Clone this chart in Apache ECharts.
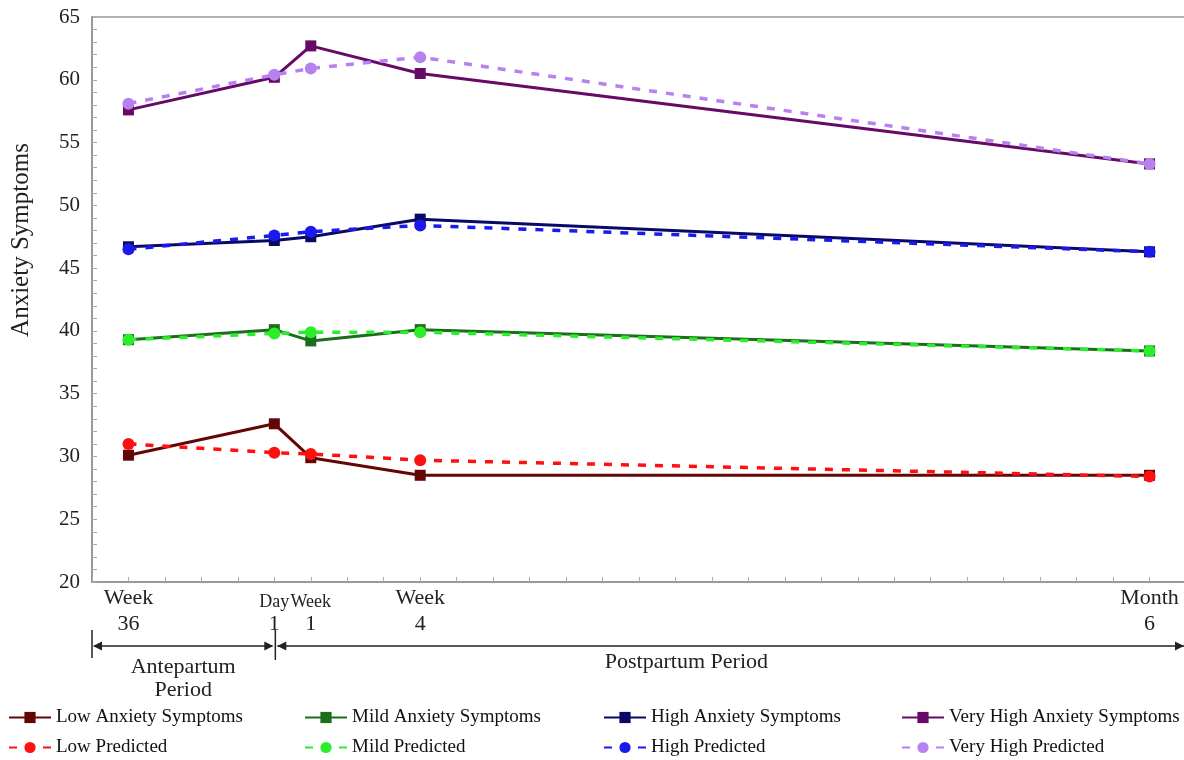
<!DOCTYPE html>
<html>
<head>
<meta charset="utf-8">
<script src="https://cdn.jsdelivr.net/npm/echarts@6/dist/echarts.min.js"></script>
<style>
html,body{margin:0;padding:0;background:#fff;}
#chart{width:1184px;height:760px;}
</style>
</head>
<body>
<div id="chart"></div>
<script>
// Time points (weeks relative to delivery)
var timePoints = [-4, 0, 1, 4, 24];
var tickLabels = {"-4": ["Week", "36", false], "0": ["Day", "1", true], "1": ["Week", "1", true], "4": ["Week", "4", false], "24": ["Month", "6", false]};

var lowObserved = [30.1, 32.6, 29.9, 28.5, 28.5];
var mildObserved = [39.3, 40.1, 39.2, 40.1, 38.4];
var highObserved = [46.7, 47.2, 47.5, 48.9, 46.3];
var veryHighObserved = [57.6, 60.2, 62.7, 60.5, 53.3];

var lowPredicted = [31.0, 30.3, 30.2, 29.7, 28.4];
var mildPredicted = [39.3, 39.8, 39.9, 39.9, 38.4];
var highPredicted = [46.5, 47.6, 47.9, 48.4, 46.3];
var veryHighPredicted = [58.1, 60.4, 60.9, 61.8, 53.3];

var FONT = '"Liberation Serif","Times New Roman",serif';

function pairs(vals) {
  return timePoints.map(function (t, i) { return [t, vals[i]]; });
}

function solid(name, color, vals) {
  return {
    name: name, type: 'line', data: pairs(vals),
    symbol: 'rect', symbolSize: 11,
    lineStyle: {color: color, width: 3},
    itemStyle: {color: color},
    z: 2
  };
}
function dashed(name, color, vals) {
  return {
    name: name, type: 'line', data: pairs(vals),
    symbol: 'circle', symbolSize: 12,
    lineStyle: {color: color, width: 3.5, type: [8, 9]},
    itemStyle: {color: color},
    z: 3
  };
}

var chart = echarts.init(document.getElementById('chart'));

function legendItem(left, top, name) {
  return {
    left: left, top: top, orient: 'horizontal', padding: 0,
    itemWidth: 42, itemHeight: 14, itemGap: 0,
    data: [name],
    textStyle: {fontFamily: FONT, fontSize: 19, color: '#111'}
  };
}

var option = {
  animation: false,
  backgroundColor: '#fff',
  grid: {left: 92, top: 17, width: 1094, bottom: 178, show: true, borderColor: '#999', borderWidth: 1.5,
         outerBoundsMode: 'none', containLabel: false},
  xAxis: {
    type: 'value', min: -5, max: 25, interval: 1,
    axisLine: {onZero: false, lineStyle: {color: '#999', width: 2}},
    axisTick: {inside: true, length: 5, lineStyle: {color: '#aaa'}},
    splitLine: {show: false},
    axisLabel: {
      margin: 3,
      formatter: function (v) {
        var l = tickLabels[String(v)];
        if (!l) return '';
        if (l[2]) return '{s|' + l[0] + '}\n{n|' + l[1] + '}';
        return '{b|' + l[0] + '}\n{n|' + l[1] + '}';
      },
      rich: {
        b: {fontFamily: FONT, fontSize: 22, color: '#222', lineHeight: 26},
        s: {fontFamily: FONT, fontSize: 18, color: '#222', lineHeight: 26, verticalAlign: 'bottom'},
        n: {fontFamily: FONT, fontSize: 22, color: '#222', lineHeight: 26}
      }
    }
  },
  yAxis: {
    type: 'value', min: 20, max: 65, interval: 5,
    axisLine: {show: true, onZero: false, lineStyle: {color: '#999', width: 2}},
    axisTick: {show: true, inside: true, length: 5, lineStyle: {color: '#aaa'}},
    minorTick: {show: true, splitNumber: 5, length: 5, lineStyle: {color: '#aaa'}},
    splitLine: {show: false},
    axisLabel: {fontFamily: FONT, fontSize: 21, color: '#222', margin: 12}
  },
  legend: [
    legendItem(8, 708, 'Low Anxiety Symptoms'),
    legendItem(304, 708, 'Mild Anxiety Symptoms'),
    legendItem(603, 708, 'High Anxiety Symptoms'),
    legendItem(901, 708, 'Very High Anxiety Symptoms'),
    legendItem(8, 738, 'Low Predicted'),
    legendItem(304, 738, 'Mild Predicted'),
    legendItem(603, 738, 'High Predicted'),
    legendItem(901, 738, 'Very High Predicted')
  ],
  series: [
    solid('Low Anxiety Symptoms', '#650606', lowObserved),
    solid('Mild Anxiety Symptoms', '#1b6e1b', mildObserved),
    solid('High Anxiety Symptoms', '#0a0a66', highObserved),
    solid('Very High Anxiety Symptoms', '#660a66', veryHighObserved),
    dashed('Low Predicted', '#ff1010', lowPredicted),
    dashed('Mild Predicted', '#2aee2a', mildPredicted),
    dashed('High Predicted', '#1a1aee', highPredicted),
    dashed('Very High Predicted', '#b781f0', veryHighPredicted)
  ]
};
chart.setOption(option);

// Period annotations positioned through the x axis scale
var xA = chart.convertToPixel({xAxisIndex: 0}, -5);
var xB = chart.convertToPixel({xAxisIndex: 0}, 0);
var xC = chart.convertToPixel({xAxisIndex: 0}, 25);
var xT = chart.convertToPixel({xAxisIndex: 0}, 11.3);
var yA = 646, col = '#222';
function head(tip, dir) {
  return {type: 'polygon', shape: {points: [[tip, yA], [tip - dir * 9, yA - 4.5], [tip - dir * 9, yA + 4.5]]}, style: {fill: col}};
}
chart.setOption({
  graphic: [
    {type: 'line', shape: {x1: xA, y1: 630, x2: xA, y2: 658}, style: {stroke: col, lineWidth: 1.5}},
    {type: 'line', shape: {x1: xB + 1, y1: 630, x2: xB + 1, y2: 660}, style: {stroke: col, lineWidth: 1.5}},
    {type: 'line', shape: {x1: xA + 2, y1: yA, x2: xB - 2, y2: yA}, style: {stroke: col, lineWidth: 1.5}},
    head(xA + 1, -1), head(xB - 1, 1),
    {type: 'line', shape: {x1: xB + 3, y1: yA, x2: xC, y2: yA}, style: {stroke: col, lineWidth: 1.5}},
    head(xB + 3, -1), head(1184, 1),
    {type: 'text', x: (xA + xB) / 2, y: 656, style: {text: 'Antepartum\nPeriod', fontFamily: FONT, fontSize: 22, lineHeight: 23, fill: '#222', align: 'center', verticalAlign: 'top'}},
    {type: 'text', x: xT, y: 651, style: {text: 'Postpartum Period', fontFamily: FONT, fontSize: 22, fill: '#222', align: 'center', verticalAlign: 'top'}},
    {type: 'text', x: 9, y: 240, rotation: Math.PI / 2, style: {text: 'Anxiety Symptoms', fontFamily: FONT, fontSize: 25, fill: '#222', align: 'center', verticalAlign: 'top'}}
  ]
});
</script>
</body>
</html>
